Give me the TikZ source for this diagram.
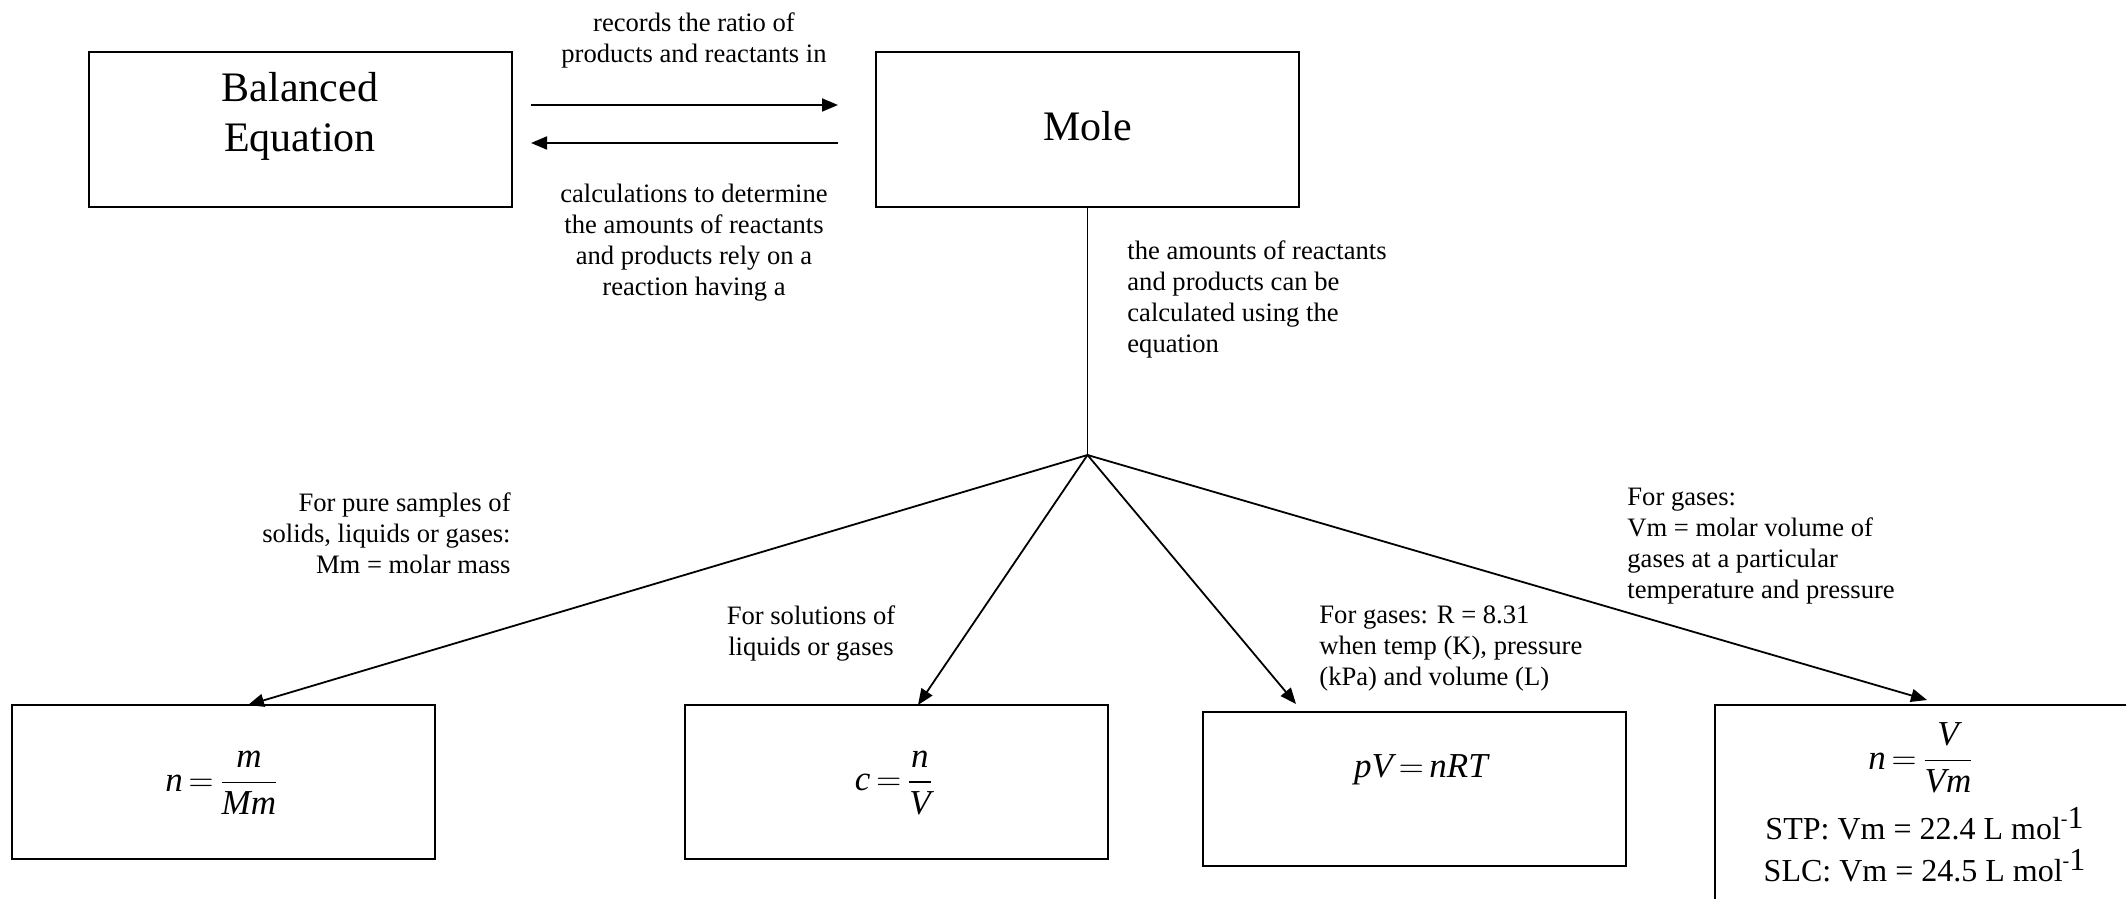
\documentclass[tikz,border=0pt]{standalone}
\usepackage{fontspec}
\setmainfont{Liberation Serif}
\usepackage{amsmath}
\usetikzlibrary{arrows.meta}
\begin{document}
\begin{tikzpicture}[x=0.5pt,y=-0.5pt,
  box/.style={draw,line width=1pt,minimum width=211.5pt,minimum height=77pt,inner sep=0pt,align=center},
  big/.style={inner sep=0pt,align=center,font=\fontsize{21}{25}\selectfont},
  lbl/.style={inner sep=0pt,font=\fontsize{13.3}{15.5}\selectfont},
  conn/.style={line width=0.9pt},
  arr/.style={conn,-{Triangle[length=8pt,width=6.5pt]}},
  frm/.style={inner sep=0pt,font=\fontsize{17.5}{20}\selectfont},
  small/.style={inner sep=0pt,font=\fontsize{16}{20}\selectfont}]
\useasboundingbox (0,0) rectangle (2126,899);
\clip (0,0) rectangle (2126,899);
\fill[white] (0,0) rectangle (2126,899);

% top boxes
\node[box] (bal) at (300,129.5) {};
\node[big] (baltext) at (300,116) {Balanced\\Equation};
\node[box] (mole) at (1087.5,129.5) {};
\node[big] (moletext) at (1087.5,126) {Mole};

% bottom boxes
\node[box] (b1) at (223.5,782) {};
\node[box] (b2) at (896.5,782) {};
\node[box] (b3) at (1414.5,789) {};
\node[box,minimum height=100pt] (b4) at (1926.5,805) {};

% formulas
\node[frm] (f1) at (222,783) {$\textit{n}\mskip3mu{=}\mskip3mu\dfrac{\textit{m}}{\textit{Mm}}$};
\node[frm] (f2) at (894,783) {$\textit{c}\mskip3mu{=}\mskip3mu\dfrac{\textit{n}}{\textit{V}}$};
\node[frm] (f3) at (1421,770) {$\textit{pV}\mskip3mu{=}\mskip3mu\textit{nRT}$};
\node[frm] (f4) at (1921,758) {$\textit{n}\mskip3mu{=}\mskip3mu\dfrac{\textit{V}}{\textit{Vm}}$};
\node[small] (stp) at (1924.5,824) {STP: Vm = 22.4 L mol\raisebox{0.45em}{\fontsize{10}{10}\selectfont -}\raisebox{0.35em}{1}};
\node[small] (slc) at (1924.5,866) {SLC: Vm = 24.5 L mol\raisebox{0.45em}{\fontsize{10}{10}\selectfont -}\raisebox{0.35em}{1}};

% horizontal arrows
\coordinate (a1) at (531,105);
\coordinate (a2) at (838,105);
\coordinate (a3) at (838,143);
\coordinate (a4) at (531,143);
\draw[arr] (a1) -- (a2);
\draw[arr] (a3) -- (a4);

% hub
\coordinate (hub) at (1087.5,455);
\draw[conn] (mole.south) -- (hub);
\coordinate (t1) at (248,705);
\coordinate (t2) at (918,705);
\coordinate (t3) at (1296,704);
\coordinate (t4) at (1927,700);
\draw[arr] (hub) -- (t1);
\draw[arr] (hub) -- (t2);
\draw[arr] (hub) -- (t3);
\draw[arr] (hub) -- (t4);

% labels
\node[lbl,align=center] (l1) at (694,40) {records the ratio of\\products and reactants in};
\node[lbl,align=center] (l2) at (694,243) {calculations to determine\\the amounts of reactants\\and products rely on a\\reaction having a};
\node[lbl,align=left,anchor=west] (l3) at (1127,299) {the amounts of reactants\\and products can be\\calculated using the\\equation};
\node[lbl,align=right,anchor=east] (l4) at (511,533) {For pure samples of\\solids, liquids or gases:\\Mm = molar mass};
\node[lbl,align=center] (l5) at (811,633) {For solutions of\\liquids or gases};
\node[lbl,align=left,anchor=west] (l6) at (1319,648) {For gases: R = 8.31\\when temp (K), pressure\\(kPa) and volume (L)};
\node[lbl,align=left,anchor=west] (l7) at (1627,546) {For gases:\\Vm = molar volume of\\gases at a particular\\temperature and pressure};
\end{tikzpicture}
\end{document}
